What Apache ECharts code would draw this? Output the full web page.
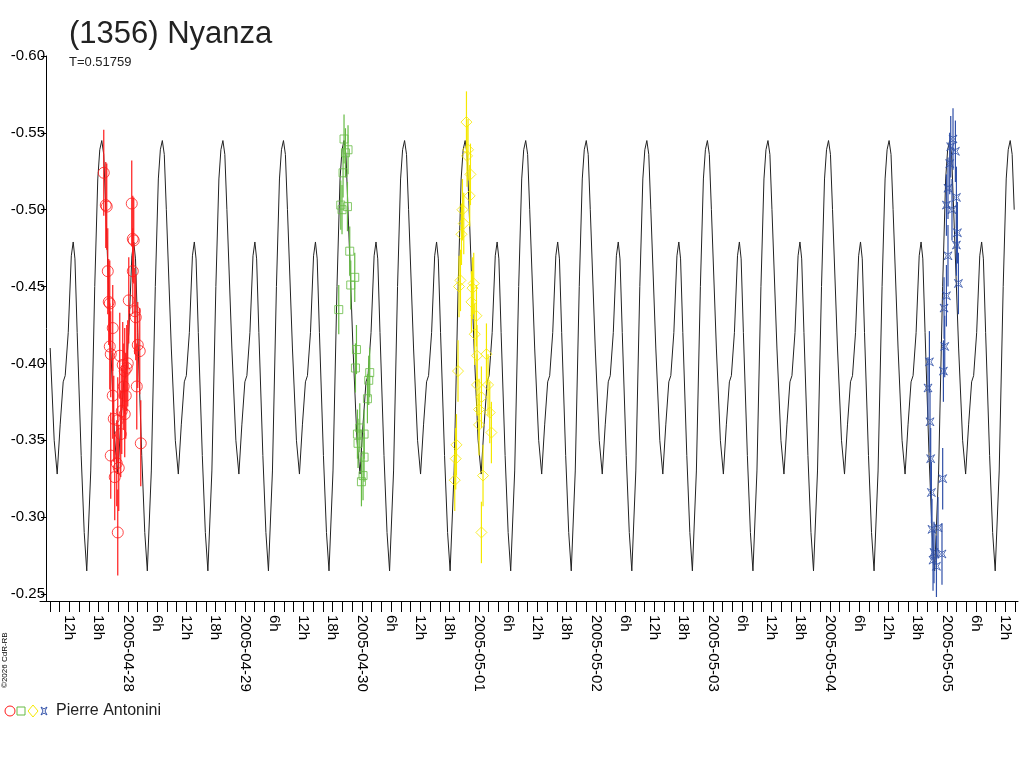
<!DOCTYPE html>
<html>
<head>
<meta charset="utf-8">
<script src="https://cdn.jsdelivr.net/npm/echarts@6/dist/echarts.min.js"></script>
<style>html,body{margin:0;padding:0;background:#fff}#chart{width:1024px;height:768px}</style>
</head>
<body>
<div id="chart"></div>
<script>
// time in hours after 2005-04-28 00:00, values in magnitudes
var period = 0.51759 * 24;   // hours
var epoch = -8.41;           // a deep minimum of the model curve
// one period of the model curve: [phase, value]
var profile = [[0, -0.265], [0.066, -0.33], [0.132, -0.45], [0.182, -0.52], [0.215, -0.539], [0.248, -0.545],
  [0.28, -0.536], [0.314, -0.50], [0.396, -0.41], [0.462, -0.35], [0.512, -0.328], [0.561, -0.36],
  [0.611, -0.388], [0.644, -0.392], [0.694, -0.42], [0.745, -0.47], [0.776, -0.479], [0.805, -0.468],
  [0.842, -0.42], [0.908, -0.34], [0.958, -0.29]];

var redPts = [[-4.92,-0.524],[-4.51,-0.503],[-4.31,-0.502],[-4.10,-0.460],[-3.90,-0.440],[-3.69,-0.439],
  [-3.69,-0.411],[-3.49,-0.406],[-3.08,-0.423],[-3.08,-0.379],[-2.87,-0.364],[-2.67,-0.326],[-2.26,-0.335],
  [-1.85,-0.332],[-2.05,-0.290],[-1.44,-0.354],[-1.23,-0.369],[-1.03,-0.399],[-0.62,-0.395],[-0.62,-0.367],
  [-0.41,-0.379],[-0.21,-0.397],[0,-0.400],[0.21,-0.441],[0.82,-0.504],[1.03,-0.481],[1.23,-0.480],
  [1.03,-0.460],[1.44,-0.434],[1.64,-0.430],[1.85,-0.385],[2.05,-0.412],[2.46,-0.408],[2.67,-0.348],
  [-0.82,-0.385],[-1.64,-0.405],[-2.05,-0.363],[-3.49,-0.340]];
var greenPts = [[44.36,-0.546],[45.18,-0.539],[44.65,-0.537],[44.16,-0.524],[43.69,-0.503],[45.06,-0.502],
  [43.95,-0.500],[45.53,-0.473],[46.56,-0.456],[45.74,-0.451],[43.28,-0.435],[46.91,-0.409],[46.70,-0.397],
  [49.63,-0.394],[49.43,-0.389],[49.16,-0.377],[47.59,-0.358],[48.47,-0.354],[47.11,-0.354],[47.23,-0.348],
  [48.47,-0.339],[48.26,-0.327],[47.93,-0.323]];
var yellowPts = [[69.47,-0.557],[69.80,-0.539],[69.59,-0.535],[70.29,-0.523],[70.14,-0.509],[68.65,-0.500],
  [68.92,-0.491],[68.45,-0.484],[68.24,-0.454],[67.95,-0.450],[70.96,-0.452],[70.70,-0.449],[70.49,-0.440],
  [71.52,-0.431],[71.17,-0.419],[71.64,-0.405],[73.57,-0.406],[67.74,-0.395],[71.64,-0.386],[73.90,-0.386],
  [72.54,-0.378],[72.05,-0.370],[74.25,-0.368],[72.05,-0.360],[74.59,-0.355],[67.42,-0.347],[67.27,-0.338],
  [67.07,-0.324],[72.87,-0.327],[72.54,-0.290]];
var bluePts = [[169.27,-0.546],[168.80,-0.541],[169.76,-0.538],[168.59,-0.530],[168.24,-0.514],[169.97,-0.508],
  [167.92,-0.503],[169.06,-0.500],[170.17,-0.485],[169.97,-0.477],[168.24,-0.470],[170.38,-0.452],
  [167.92,-0.444],[167.43,-0.436],[167.57,-0.411],[164.43,-0.401],[167.30,-0.395],[164.14,-0.384],
  [164.55,-0.362],[164.69,-0.338],[167.15,-0.325],[164.84,-0.316],[164.96,-0.292],[166.19,-0.293],
  [165.37,-0.277],[167.01,-0.276],[165.17,-0.272],[165.87,-0.268]];
var redErr = 0.028, greenErr = 0.016, yellowErr = 0.02, blueErr = 0.02;
var dates = {0: '2005-04-28', 24: '2005-04-29', 48: '2005-04-30', 72: '2005-05-01',
  96: '2005-05-02', 120: '2005-05-03', 144: '2005-05-04', 168: '2005-05-05'};

var curveStart = -16.6, xMin = -18, xMax = 182.6;
var model = [];
for (var k = -2; k < 18; k++) {
  profile.forEach(function (p) {
    var t = epoch + (k + p[0]) * period;
    if (t >= curveStart && t <= xMax) model.push([t, p[1]]);
  });
}
model.sort(function (a, b) { return a[0] - b[0]; });

var star = 'path://M0,0 L5,3 L10,0 L7,5 L10,10 L5,7 L0,10 L3,5 Z';

function errSeries(pts, err, color) {
  return {
    type: 'custom', silent: true, z: 2,
    data: pts.map(function (p) { return [p[0], p[1] - err, p[1] + err]; }),
    renderItem: function (params, api) {
      var a = api.coord([api.value(0), api.value(1)]);
      var b = api.coord([api.value(0), api.value(2)]);
      return { type: 'line', shape: { x1: a[0], y1: a[1], x2: b[0], y2: b[1] },
        style: { stroke: color, lineWidth: 1.2 } };
    }
  };
}
function ptSeries(pts, symbol, size, color) {
  return { type: 'scatter', data: pts, symbol: symbol, symbolSize: size, z: 3,
    itemStyle: { color: 'rgba(0,0,0,0)', borderColor: color, borderWidth: 1 } };
}

var chart = echarts.init(document.getElementById('chart'));
chart.setOption({
  animation: false,
  textStyle: { fontFamily: 'Liberation Sans' },
  title: {
    text: '(1356) Nyanza', subtext: 'T=0.51759', left: 64, top: 14, itemGap: 6,
    textStyle: { fontSize: 31, fontWeight: 'normal', color: '#222', fontFamily: 'Liberation Sans' },
    subtextStyle: { fontSize: 13, color: '#222', fontFamily: 'Liberation Sans' }
  },
  grid: { left: 40, right: 6, top: 56, bottom: 167 },
  xAxis: {
    type: 'value', min: xMin, max: xMax, interval: 2,
    splitLine: { show: false },
    axisLine: { onZero: false, lineStyle: { color: '#000' } },
    axisTick: { length: 11, lineStyle: { color: '#000' } },
    axisLabel: {
      rotate: -90, color: '#000', fontSize: 15, margin: 14, showMaxLabel: false, showMinLabel: false,
      formatter: function (v) {
        var h = Math.round(v);
        if (h % 6 !== 0) return '';
        var m = ((h % 24) + 24) % 24;
        return m === 0 ? (dates[h] || '') : m + 'h';
      }
    }
  },
  yAxis: {
    type: 'value', inverse: true, min: -0.6, max: -0.2454, interval: 0.05, offset: -6,
    splitLine: { show: false },
    axisLine: { show: true, onZero: false, lineStyle: { color: '#000' } },
    axisTick: { show: true, length: 5, lineStyle: { color: '#000' } },
    axisLabel: { color: '#000', fontSize: 15, margin: 1, showMaxLabel: false,
      formatter: function (v) { return v.toFixed(2); } }
  },
  series: [
    { type: 'line', data: model, showSymbol: false, z: 1, lineStyle: { color: '#222', width: 1 } },
    errSeries(redPts, redErr, '#ff1a1a'),
    errSeries(greenPts, greenErr, '#66bb44'),
    errSeries(yellowPts, yellowErr, '#f5e800'),
    errSeries(bluePts, blueErr, '#3050a8'),
    ptSeries(redPts, 'circle', 11, '#ff1a1a'),
    ptSeries(greenPts, 'rect', 8, '#66bb44'),
    ptSeries(yellowPts, 'diamond', 11, '#f5e800'),
    ptSeries(bluePts, star, 8, '#3050a8')
  ],
  graphic: [
    { type: 'text', x: 1, y: 688, rotation: Math.PI / 2,
      style: { text: '©2026 CdR-RB', fontSize: 8, fill: '#000' } },
    { type: 'circle', shape: { cx: 10, cy: 711, r: 5 }, style: { fill: 'none', stroke: '#ff1a1a' } },
    { type: 'rect', shape: { x: 17, y: 707, width: 8, height: 8 }, style: { fill: 'none', stroke: '#66bb44' } },
    { type: 'polygon', shape: { points: [[33, 705], [38, 711], [33, 717], [28, 711]] }, style: { fill: 'none', stroke: '#f5e800' } },
    { type: 'polygon', shape: { points: [[41, 707], [44, 709], [47, 707], [45, 711], [47, 715], [44, 713], [41, 715], [43, 711]] }, style: { fill: 'none', stroke: '#3050a8' } },
    { type: 'text', x: 56, y: 703, style: { text: 'Pierre Antonini', fontSize: 16, fill: '#222', fontFamily: 'Liberation Sans' } }
  ]
});
</script>
</body>
</html>
